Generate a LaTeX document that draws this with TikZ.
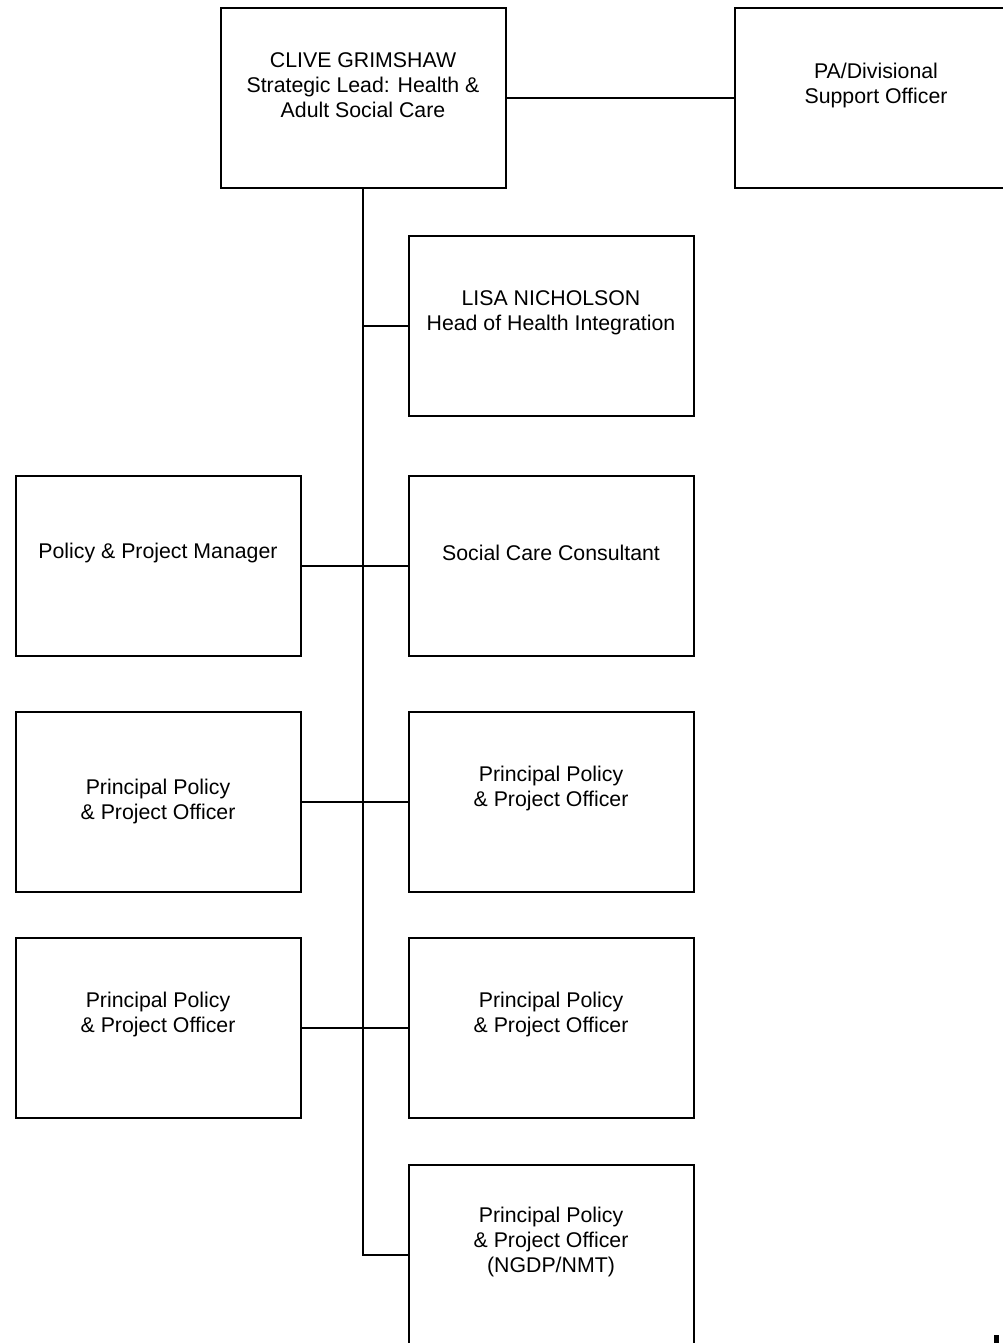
\documentclass[tikz,border=0pt]{standalone}
\usepackage{fontspec}
\setmainfont{Liberation Sans}
\begin{document}
\begin{tikzpicture}[x=1pt,y=-1pt,
  box/.style={draw,line width=2pt,minimum width=285pt,minimum height=180pt,inner sep=0pt,anchor=north west},
  txt/.style={align=center,font=\fontsize{21.3}{25}\selectfont,inner sep=0pt},
  conn/.style={line width=2pt}]
\useasboundingbox (0,0) rectangle (1003,1343);
% boxes
\node[box] (clive) at (219.5,7.5) {};
\node[box] (pa) at (733.5,7.5) {};
\node[box] (lisa) at (407.5,234.5) {};
\node[box] (ppm) at (14.5,474.5) {};
\node[box] (scc) at (407.5,474.5) {};
\node[box] (l1) at (14.5,710.5) {};
\node[box] (r1) at (407.5,710.5) {};
\node[box] (l2) at (14.5,936.5) {};
\node[box] (r2) at (407.5,936.5) {};
\node[box] (r3) at (407.5,1163.5) {};
% texts
\node[txt] (tclive) at ([yshift=13pt]clive.center) {CLIVE GRIMSHAW\\Strategic Lead: Health \&\\Adult Social Care};
\node[txt] (tpa) at ([xshift=-1pt,yshift=13pt]pa.center) {PA/Divisional\\Support Officer};
\node[txt] (tlisa) at ([yshift=13pt]lisa.center) {LISA NICHOLSON\\Head of Health Integration};
\node[txt] (tppm) at ([yshift=13pt]ppm.center) {Policy \& Project Manager};
\node[txt] (tscc) at ([yshift=13pt]scc.center) {Social Care Consultant};
\node[txt] (tl1) at (l1.center) {Principal Policy\\\& Project Officer};
\node[txt] (tr1) at ([yshift=13pt]r1.center) {Principal Policy\\\& Project Officer};
\node[txt] (tl2) at ([yshift=13pt]l2.center) {Principal Policy\\\& Project Officer};
\node[txt] (tr2) at ([yshift=13pt]r2.center) {Principal Policy\\\& Project Officer};
\node[txt] (tr3) at ([yshift=13pt]r3.center) {Principal Policy\\\& Project Officer\\(NGDP/NMT)};
% connectors
\coordinate (top) at (clive.south);
\draw[conn] (clive.east) -- (pa.west);
\draw[conn] (top) -- (top |- r3.west) -- (r3.west);
\draw[conn] (top |- lisa.west) -- (lisa.west);
\draw[conn] (ppm.east) -- (scc.west);
\draw[conn] (l1.east) -- (r1.west);
\draw[conn] (l2.east) -- (r2.west);
% small mark
\fill (994,1335) rectangle (999,1343);
\end{tikzpicture}
\end{document}
